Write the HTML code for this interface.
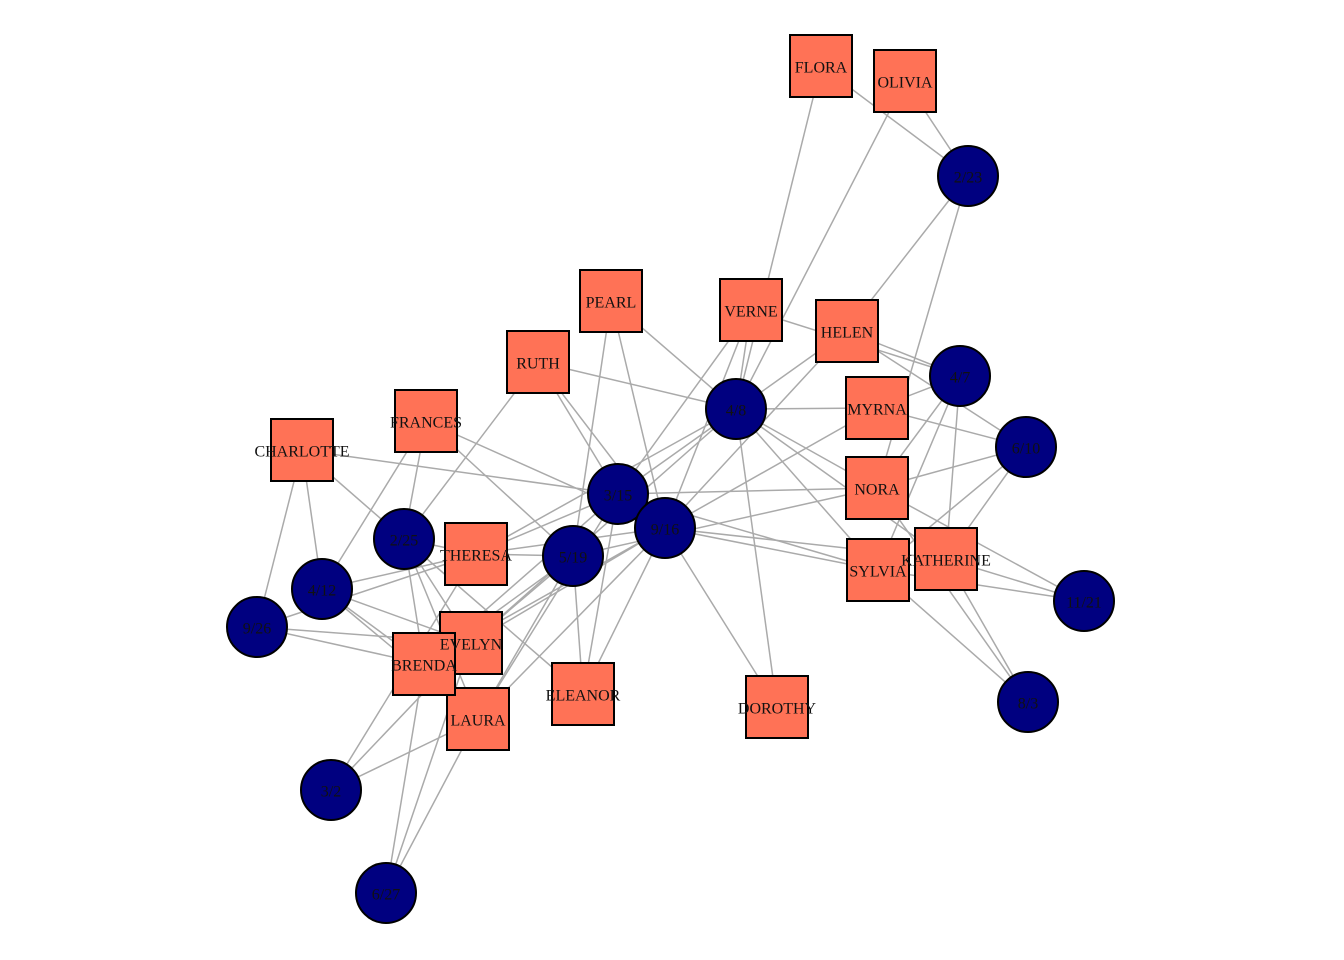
<!DOCTYPE html>
<html><head><meta charset="utf-8"><style>
html,body{margin:0;padding:0;background:#fff;width:1344px;height:960px;overflow:hidden}
svg text{font-family:"Liberation Serif",serif;font-size:16px;fill:#111;text-anchor:middle;dominant-baseline:central}
</style></head><body>
<svg id="g" width="1344" height="960" xmlns="http://www.w3.org/2000/svg">
<g id="edges" stroke="#aaaaaa" stroke-width="1.5"></g>
<g id="nodes"></g>
<g id="labels"></g>
</svg>
<script>
var E={"6/27":[386,893],"3/2":[331,790],"4/12":[322,589],"9/26":[257,627],"2/25":[404,539],"5/19":[573,556],"3/15":[618,494],"9/16":[665,528],"4/8":[736,409],"6/10":[1026,447],"2/23":[968,176],"4/7":[960,376],"11/21":[1084,601],"8/3":[1028,702]};
var W={EVELYN:[471,643,["6/27","3/2","4/12","9/26","2/25","5/19","9/16","4/8"]],
LAURA:[478,719,["6/27","3/2","4/12","2/25","5/19","3/15","9/16"]],
THERESA:[476,554,["3/2","4/12","9/26","2/25","5/19","3/15","9/16","4/8"]],
BRENDA:[424,664,["6/27","4/12","9/26","2/25","5/19","3/15","9/16"]],
CHARLOTTE:[302,450,["4/12","9/26","2/25","3/15"]],
FRANCES:[426,421,["4/12","2/25","5/19","9/16"]],
ELEANOR:[583,694,["2/25","5/19","3/15","9/16"]],
PEARL:[611,301,["5/19","9/16","4/8"]],
RUTH:[538,362,["2/25","3/15","9/16","4/8"]],
VERNE:[751,310,["3/15","9/16","4/8","4/7"]],
MYRNA:[877,408,["9/16","4/8","6/10","4/7"]],
KATHERINE:[946,559,["9/16","4/8","6/10","4/7","11/21","8/3"]],
SYLVIA:[878,570,["3/15","9/16","4/8","6/10","4/7","11/21","8/3"]],
NORA:[877,488,["5/19","3/15","4/8","6/10","2/23","4/7","11/21","8/3"]],
HELEN:[847,331,["3/15","9/16","6/10","2/23","4/7"]],
DOROTHY:[777,707,["9/16","4/8"]],
OLIVIA:[905,81,["4/8","2/23"]],
FLORA:[821,66,["4/8","2/23"]]};
var NS="http://www.w3.org/2000/svg";
function el(t,a,p){var e=document.createElementNS(NS,t);for(var k in a)e.setAttribute(k,a[k]);document.getElementById(p).appendChild(e);return e;}
for(var w in W){var d=W[w];d[2].forEach(function(ev){var p=E[ev];el("line",{x1:d[0],y1:d[1],x2:p[0],y2:p[1]},"edges");});}
var order=["EVELYN","LAURA","THERESA","BRENDA","CHARLOTTE","FRANCES","ELEANOR","PEARL","RUTH","VERNE","MYRNA","KATHERINE","SYLVIA","NORA","HELEN","DOROTHY","OLIVIA","FLORA"];
order.forEach(function(w){var d=W[w];el("rect",{x:d[0]-31,y:d[1]-31,width:62,height:62,fill:"#ff7256",stroke:"#000","stroke-width":2},"nodes");});
for(var e in E){var p=E[e];el("circle",{cx:p[0],cy:p[1],r:30,fill:"#000080",stroke:"#000","stroke-width":2},"nodes");}
order.forEach(function(w){var d=W[w];var t=el("text",{x:d[0],y:d[1]+2},"labels");t.textContent=w;});
for(var e in E){var p=E[e];var t=el("text",{x:p[0],y:p[1]+2},"labels");t.textContent=e;}
</script>
</body></html>
